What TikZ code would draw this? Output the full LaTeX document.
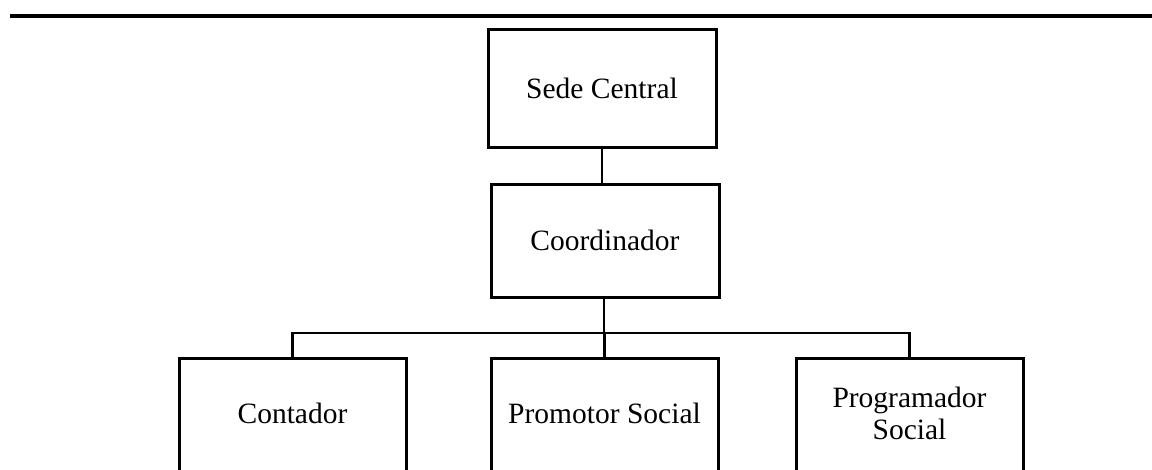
\documentclass[tikz,border=0pt]{standalone}
\usepackage{fontspec}
\setmainfont{Liberation Serif}
\begin{document}
\begin{tikzpicture}[x=1pt,y=-1pt,
  orgbox/.style={draw, line width=3pt, rectangle, inner sep=0pt, minimum width=228pt},
  childbox/.style={draw, line width=3pt, rectangle, inner sep=0pt, minimum width=227pt, minimum height=140pt, anchor=north},
  lbl/.style={font=\fontsize{29.5}{32}\selectfont, align=center, inner sep=0pt},
  conn/.style={line width=2.8pt}]
\useasboundingbox (0,0) rectangle (1152,469);
\coordinate (ruleL) at (10,16);
\coordinate (ruleR) at (1152,16);
\draw[line width=3.2pt] (ruleL) -- (ruleR);

\node[orgbox, minimum height=118pt, lbl] (sede) at (602,88) {Sede Central};
\node[orgbox, minimum height=113pt, lbl] (coord) at (605,240.5) {Coordinador};

\node[childbox] (cont) at (292.5,357) {};
\node[childbox] (prom) at (604.5,357) {};
\node[childbox] (prog) at (909.5,357) {};
\node[lbl] (contT) at (292.5,413) {Contador};
\node[lbl] (promT) at (604.5,413) {Promotor Social};
\node[lbl] (progT) at (909.5,413) {Programador\\Social};

\coordinate (bar) at (604,333);
\draw[conn] (sede.south) -- (sede.south |- coord.north);
\draw[conn] (coord.south -| bar) -- (bar);
\draw[conn] (cont.north) -- (cont.north |- bar) -- (prog.north |- bar) -- (prog.north);
\draw[conn] (prom.north) -- (prom.north |- bar);
\end{tikzpicture}
\end{document}
